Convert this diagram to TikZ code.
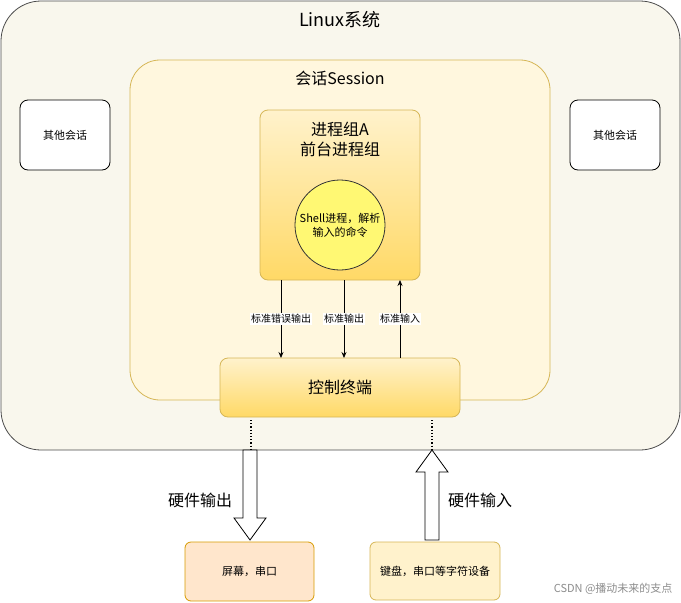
\documentclass[tikz,border=0pt]{standalone}
\usepackage{fontspec}
\setmainfont{Noto Sans CJK SC}
\usetikzlibrary{arrows.meta}
\definecolor{outerfill}{HTML}{F9F7ED}
\definecolor{sessfill}{HTML}{FFF7DE}
\definecolor{ybd}{HTML}{D6B656}
\definecolor{ytop}{HTML}{FFF2CC}
\definecolor{ybot}{HTML}{FFD966}
\definecolor{ofill}{HTML}{FFE6CC}
\definecolor{obd}{HTML}{D79B00}
\begin{document}
\begin{tikzpicture}[x=1pt,y=-1pt,
  box/.style={rounded corners=8pt,draw,line width=0.8pt},
  grad/.style={box,draw=ybd,top color=ytop,bottom color=ybot},
  lbl/.style={fill=white,inner sep=1pt,font=\fontsize{10}{12}\selectfont},
  arr/.style={-{Stealth[length=6pt,width=5pt]},line width=0.8pt}]
\useasboundingbox (0,0) rectangle (681,603);
\draw[box,draw=black!70,fill=outerfill,rounded corners=40pt] (1,1) rectangle (680,450);
\node[font=\fontsize{18}{20}\selectfont] (t1) at (340,20) {Linux系统};
\draw[box,draw=ybd,fill=sessfill,rounded corners=30pt] (130,60) rectangle (550,400);
\node[font=\fontsize{16}{18}\selectfont] (t2) at (340,78) {会话Session};
\node[box,draw=black,fill=white,minimum width=90pt,minimum height=70pt,font=\fontsize{11}{13}\selectfont] (o1) at (65,135) {其他会话};
\node[box,draw=black,fill=white,minimum width=90pt,minimum height=70pt,font=\fontsize{11}{13}\selectfont] (o2) at (615,135) {其他会话};
\node[grad,minimum width=160pt,minimum height=170pt] (pg) at (340,195) {};
\node[align=center,font=\fontsize{16}{20}\selectfont] (pgt) at (340,139) {进程组A\\前台进程组};
\node[circle,draw=black!80,fill=yellow!55,line width=0.8pt,minimum size=90pt,align=center,inner sep=0pt,font=\fontsize{11}{14}\selectfont] (sh) at (340,225) {Shell进程，解析\\输入的命令};
\node[grad,minimum width=240pt,minimum height=59pt,font=\fontsize{16}{18}\selectfont] (ct) at (340,387.5) {控制终端};
\coordinate (a1) at (281,280); \coordinate (b1) at (281,358);
\coordinate (a2) at (344,280); \coordinate (b2) at (344,358);
\coordinate (a3) at (400,280); \coordinate (b3) at (400,358);
\draw[arr] (a1) -- node[lbl]{标准错误输出} (b1);
\draw[arr] (a2) -- node[lbl]{标准输出} (b2);
\draw[arr] (b3) -- node[lbl]{标准输入} (a3);
\coordinate (d1) at (251,420); \coordinate (e1) at (251,450);
\coordinate (d2) at (432,420); \coordinate (e2) at (432,450);
\draw[dotted,line width=1.2pt] (d1) -- (e1);
\draw[dotted,line width=1.2pt] (d2) -- (e2);
\draw[line width=0.8pt,fill=white] (243,450) -- (257,450) -- (257,518) -- (266,518) -- (250,540) -- (234,518) -- (243,518) -- cycle;
\draw[line width=0.8pt,fill=white] (432,450) -- (448,472) -- (439,472) -- (439,540) -- (425,540) -- (425,472) -- (416,472) -- cycle;
\node[font=\fontsize{16}{18}\selectfont] (h1) at (200,500) {硬件输出};
\node[font=\fontsize{16}{18}\selectfont] (h2) at (480,500) {硬件输入};
\node[box,draw=obd,fill=ofill,rounded corners=6pt,minimum width=129pt,minimum height=59pt,font=\fontsize{11}{13}\selectfont] (s1) at (249.5,571.5) {屏幕，串口};
\node[box,draw=ybd,fill=ytop,rounded corners=6pt,minimum width=130pt,minimum height=58pt,font=\fontsize{11}{13}\selectfont] (s2) at (435,571) {键盘，串口等字符设备};
\node[text=black!45,font=\fontsize{11}{13}\selectfont,anchor=east] (wm) at (676,589) {CSDN @播动未来的支点};
\end{tikzpicture}
\end{document}
